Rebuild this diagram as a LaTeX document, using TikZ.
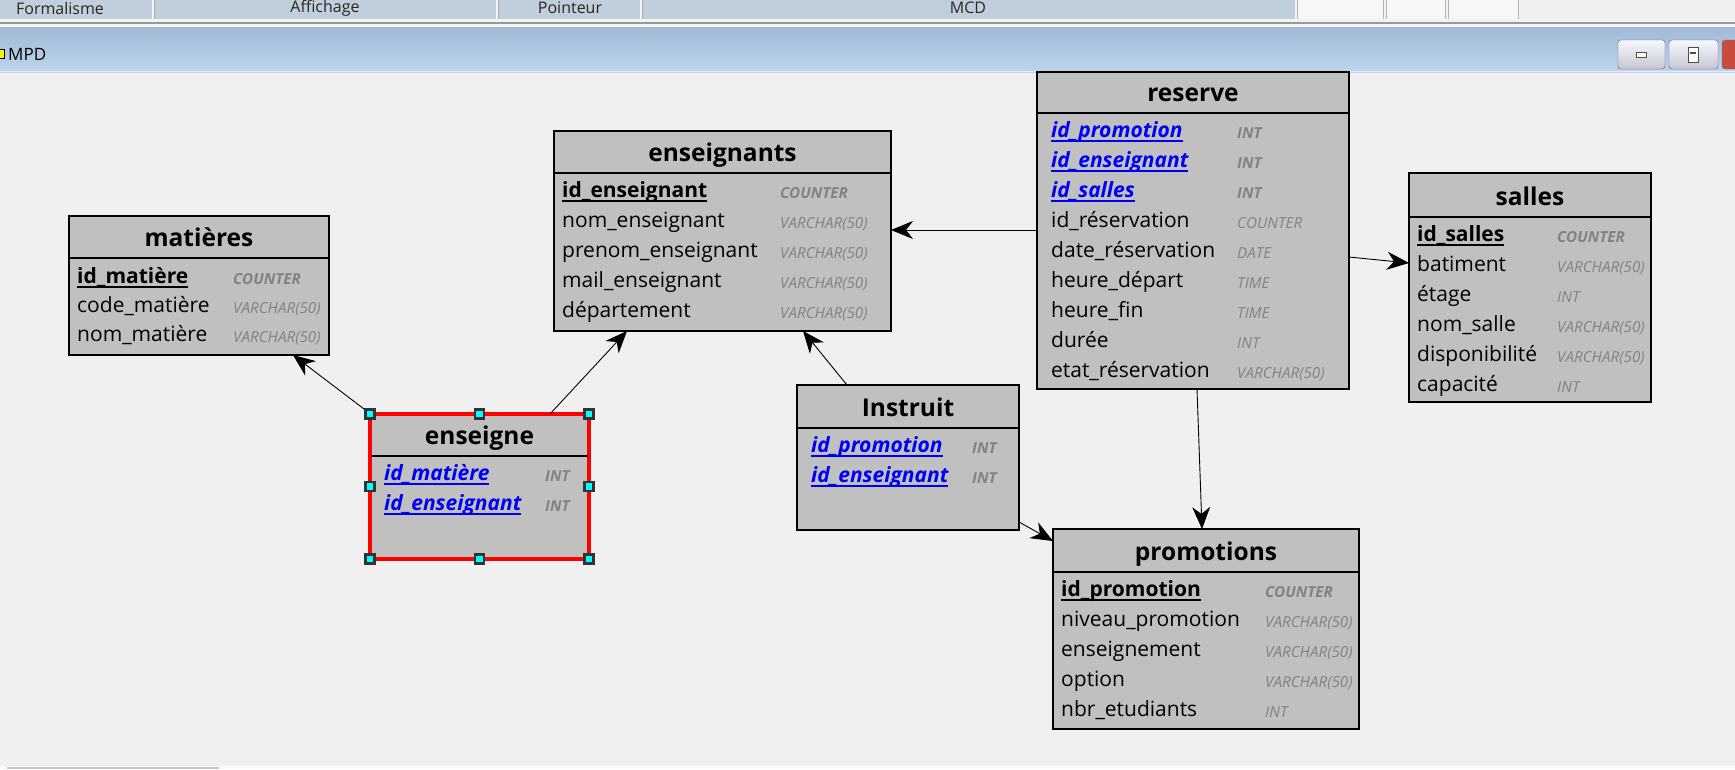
\documentclass[tikz,border=0pt]{standalone}
\usepackage{fontspec}
\setmainfont{Open Sans}
\usetikzlibrary{arrows.meta,calc}
\definecolor{canvas}{HTML}{F0F0F0}
\definecolor{tblfill}{HTML}{C0C0C0}
\definecolor{typgray}{HTML}{828282}
\definecolor{fkblue}{HTML}{0000F0}
\definecolor{tbarbg}{HTML}{C1CFDD}
\definecolor{hcyan}{HTML}{00FFFF}
\newsavebox{\myulbox}
\newcommand\ulx[1]{\sbox\myulbox{#1}\rlap{\vrule width\wd\myulbox height -3pt depth 4.5pt}\usebox\myulbox}
\newcommand\dbtab[8]{%
  \node[tbox,#8,minimum width={#4-#2},minimum height={#5-#3},anchor=north west] (#1) at (#2,#3) {};
  \draw[sepline] ({#2+1},#6) -- ({#4-1},#6);
  \node[ttl] (#1-title) at ({(#2+#4)/2},{#6-12}) {#7};
}
\newcommand\frow[8]{%
  \node[#4] (#1) at (#2,#3) {#5};
  \node[#7] (#1-ty) at (#6,{#3+1}) {#8};
}
\colorlet{btnborder}{blue!30!gray}
\tikzset{
  tbox/.style={rectangle,draw=black,fill=tblfill,line width=1.2pt,inner sep=0pt,outer sep=0pt},
  sepline/.style={draw=black,line width=1.2pt},
  ttl/.style={font=\fontsize{24.5}{28}\selectfont\bfseries,inner sep=0pt,anchor=base},
  fld/.style={font=\fontsize{21}{25}\selectfont,inner sep=0pt,anchor=base west,text=black},
  pk/.style={fld,font=\fontsize{21}{25}\selectfont\bfseries},
  fk/.style={fld,font=\fontsize{21}{25}\selectfont\bfseries\itshape,text=fkblue},
  typ/.style={font=\fontsize{15.2}{17}\selectfont\itshape,text=typgray,inner sep=0pt,anchor=base west},
  typk/.style={typ,font=\fontsize{15.2}{17}\selectfont\bfseries\itshape},
  rel/.style={-{Stealth[length=22pt,width=18pt,inset=7pt]},line width=0.9pt,draw=black},
  tbtxt/.style={font=\fontsize{16}{18}\selectfont,text=black!85,inner sep=0pt},
  winbtn/.style={draw=btnborder,rounded corners=3pt,top color=white!85!blue!20,bottom color=blue!10!gray!40},
}
\begin{document}
\begin{tikzpicture}[x=1pt,y=-1pt]
\useasboundingbox (0,0) rectangle (1735,769);
% canvas
\fill[canvas] (0,0) rectangle (1735,769);
% toolbar
\fill[tbarbg] (0,0) rectangle (1295,19);
\foreach \xx in {153,497,641,1296}{
  \draw[white!80!tbarbg,line width=1.5pt] (\xx,0) -- (\xx,19);
  \draw[gray!70,line width=0.8pt] (\xx+1.5,0) -- (\xx+1.5,19);
}
\foreach \xa/\xb in {1297/1383,1386/1445,1448/1518}{
  \filldraw[fill=white!94!gray,draw=gray!60,line width=0.8pt] (\xa,-1) rectangle (\xb,19);
}
\node[tbtxt] (tb1) at (60,8) {Formalisme};
\node[tbtxt] (tb2) at (325,8) {Affichage};
\node[tbtxt] (tb3) at (570,8) {Pointeur};
\node[tbtxt] (tb4) at (968,8) {MCD};
% separator strip
\fill[white!90!gray] (0,19) rectangle (1735,27);
\draw[gray!80,line width=2pt] (0,22.5) -- (1735,22.5);
% title bar
\shade[top color={rgb,255:red,160;green,185;blue,213},bottom color={rgb,255:red,190;green,212;blue,236}] (0,27) rectangle (1735,72);
\draw[white!70!blue!30,line width=1pt] (0,71.5) -- (1735,71.5);
\filldraw[fill=yellow,draw=black,line width=0.6pt] (-2,49) rectangle (4,58);
\node[font=\fontsize{17}{19}\selectfont,inner sep=0pt,anchor=west] (mpd) at (8,54) {MPD};
\draw[winbtn] (1618,40) rectangle (1665,69);
\filldraw[fill=white,draw=black!70,line width=0.8pt] (1636,52) rectangle (1646,57);
\draw[winbtn] (1669,40) rectangle (1718,69);
\filldraw[fill=white,draw=black!70,line width=1pt] (1688,47) rectangle (1698,62);
\draw[black!70,line width=2pt] (1690,53) -- (1696,53);
\filldraw[fill={rgb,255:red,199;green,75;blue,63},draw=black!50,rounded corners=3pt] (1722,40) rectangle (1745,69);
% bottom scroll bar
\fill[white!97!gray] (0,766) rectangle (1735,769);
\fill[gray!45] (7,767) rectangle (219,769);

% ---------- tables ----------
\dbtab{matieres}{69}{216}{329}{355}{258}{matières}{}
\frow{m1}{77}{283}{pk}{\ulx{id\_matière}}{233}{typk}{COUNTER}
\frow{m2}{77}{312}{fld}{code\_matière}{233}{typ}{VARCHAR(50)}
\frow{m3}{77}{341}{fld}{nom\_matière}{233}{typ}{VARCHAR(50)}

\dbtab{enseignants}{554}{131}{891}{331}{173}{enseignants}{}
\frow{e1}{562}{197}{pk}{\ulx{id\_enseignant}}{780}{typk}{COUNTER}
\frow{e2}{562}{227}{fld}{nom\_enseignant}{780}{typ}{VARCHAR(50)}
\frow{e3}{562}{257}{fld}{prenom\_enseignant}{780}{typ}{VARCHAR(50)}
\frow{e4}{562}{287}{fld}{mail\_enseignant}{780}{typ}{VARCHAR(50)}
\frow{e5}{562}{317}{fld}{département}{780}{typ}{VARCHAR(50)}

\dbtab{reserve}{1037}{72}{1349}{389}{113}{reserve}{}
\frow{r1}{1051}{137}{fk}{\ulx{id\_promotion}}{1237}{typk}{INT}
\frow{r2}{1051}{167}{fk}{\ulx{id\_enseignant}}{1237}{typk}{INT}
\frow{r3}{1051}{197}{fk}{\ulx{id\_salles}}{1237}{typk}{INT}
\frow{r4}{1051}{227}{fld}{id\_réservation}{1237}{typ}{COUNTER}
\frow{r5}{1051}{257}{fld}{date\_réservation}{1237}{typ}{DATE}
\frow{r6}{1051}{287}{fld}{heure\_départ}{1237}{typ}{TIME}
\frow{r7}{1051}{317}{fld}{heure\_fin}{1237}{typ}{TIME}
\frow{r8}{1051}{347}{fld}{durée}{1237}{typ}{INT}
\frow{r9}{1051}{377}{fld}{etat\_réservation}{1237}{typ}{VARCHAR(50)}

\dbtab{salles}{1409}{173}{1651}{402}{217}{salles}{}
\frow{s1}{1417}{241}{pk}{\ulx{id\_salles}}{1557}{typk}{COUNTER}
\frow{s2}{1417}{271}{fld}{batiment}{1557}{typ}{VARCHAR(50)}
\frow{s3}{1417}{301}{fld}{étage}{1557}{typ}{INT}
\frow{s4}{1417}{331}{fld}{nom\_salle}{1557}{typ}{VARCHAR(50)}
\frow{s5}{1417}{361}{fld}{disponibilité}{1557}{typ}{VARCHAR(50)}
\frow{s6}{1417}{391}{fld}{capacité}{1557}{typ}{INT}

\dbtab{instruit}{797}{385}{1019}{530}{428}{Instruit}{}
\frow{i1}{811}{452}{fk}{\ulx{id\_promotion}}{972}{typk}{INT}
\frow{i2}{811}{482}{fk}{\ulx{id\_enseignant}}{972}{typk}{INT}

\dbtab{promotions}{1053}{529}{1359}{729}{572}{promotions}{}
\frow{p1}{1061}{596}{pk}{\ulx{id\_promotion}}{1265}{typk}{COUNTER}
\frow{p2}{1061}{626}{fld}{niveau\_promotion}{1265}{typ}{VARCHAR(50)}
\frow{p3}{1061}{656}{fld}{enseignement}{1265}{typ}{VARCHAR(50)}
\frow{p4}{1061}{686}{fld}{option}{1265}{typ}{VARCHAR(50)}
\frow{p5}{1061}{716}{fld}{nbr\_etudiants}{1265}{typ}{INT}

\dbtab{enseigne}{370}{414}{589}{559}{456}{enseigne}{draw=red,line width=4pt}
\frow{n1}{384}{480}{fk}{\ulx{id\_matière}}{545}{typk}{INT}
\frow{n2}{384}{510}{fk}{\ulx{id\_enseignant}}{545}{typk}{INT}

% ---------- connectors ----------
\draw[rel] ([shift={(-2pt,2pt)}]enseigne.north west) -- ([xshift=224pt]matieres.south west);
\draw[rel] ([xshift=180pt]enseigne.north west) -- ([xshift=73pt]enseignants.south west);
\draw[rel] ([xshift=50pt]instruit.north west) -- ([xshift=249pt]enseignants.south west);
\draw[rel] ([yshift=-158pt]reserve.north west) -- ([yshift=-99pt]enseignants.north east);
\draw[rel] ([yshift=-185pt]reserve.north east) -- ([yshift=-90pt]salles.north west);
\draw[rel] ([xshift=160pt]reserve.south west) -- ([xshift=149pt]promotions.north west);
\draw[rel] ([yshift=8pt]instruit.south east) -- ([yshift=-12pt]promotions.north west);

% selection handles
\foreach \a in {north west,north,north east,west,east,south west,south,south east}{
  \filldraw[fill=hcyan,draw=black!80,line width=2.5pt] ([shift={(-4.5pt,-4.5pt)}]enseigne.\a) rectangle ++(9pt,9pt);
}
\end{tikzpicture}
\end{document}
